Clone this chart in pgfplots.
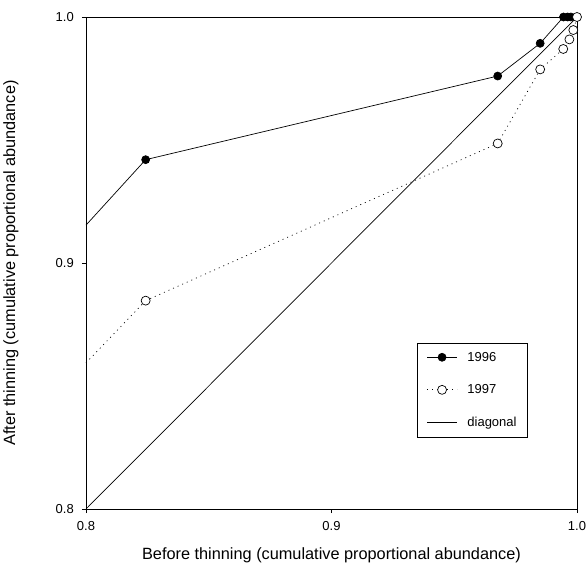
\documentclass[border=0pt]{standalone}
\usepackage{fontspec}
\setmainfont{Liberation Sans}
\usepackage{pgfplots}
\pgfplotsset{compat=1.18}
\begin{document}
\begin{tikzpicture}
\begin{axis}[
  scale only axis, width=491bp, height=492bp,
  xmin=0.8, xmax=1.0, ymin=0.8, ymax=1.0,
  xtick={0.8,0.9,1.0}, ytick={0.8,0.9,1.0},
  tick pos=left, tick align=outside, major tick length=4bp,
  minor tick num=0,
  clip=false,
  /pgf/number format/.cd, fixed, fixed zerofill, precision=1, assume math mode=true,
  /pgfplots/.cd,
  tick label style={font=\fontsize{13bp}{15bp}\selectfont},
  xticklabel style={yshift=-5bp},
  yticklabel style={xshift=-4.7bp},
  every tick/.style={black, line width=0.6bp},
  axis line style={line width=0.6bp},
  xlabel={Before thinning (cumulative proportional abundance)},
  ylabel={After thinning (cumulative proportional abundance)},
  label style={font=\fontsize{16.3bp}{19bp}\selectfont},
  xlabel style={at={(axis description cs:0.5,-0.0935)}, anchor=center},
  ylabel style={at={(axis description cs:-0.1527,0.5)}, anchor=center},
  legend cell align=left,
  legend image code/.code={\draw[mark repeat=2,mark phase=2,#1] plot coordinates {(0bp,0bp)(15bp,0bp)(30bp,0bp)};},
  legend style={at={(axis description cs:0.675,0.338)}, anchor=north west,
    draw=black, line width=0.6bp, inner xsep=9bp, inner ysep=7bp,
    font=\fontsize{13bp}{15bp}\selectfont, row sep=18bp, column sep=8bp},
]
% diagonal
\addplot[black, line width=0.7bp, forget plot] coordinates {(0.8,0.8) (1.0,1.0)};
% 1996
\addplot[black, line width=0.7bp, forget plot] coordinates {(0.8,0.9154) (0.8243,0.942)};
\addplot[black, line width=0.7bp, mark=*, mark size=4bp, mark options={solid, fill=black}]
  coordinates {(0.8243,0.942) (0.9677,0.976) (0.985,0.9893) (0.9945,1.0) (0.9962,1.0) (0.9975,1.0)};
\addlegendentry{1996}
% 1997
\addplot[black, line width=0.7bp, dash pattern=on 1bp off 4bp, forget plot] coordinates {(0.8,0.8594) (0.8243,0.8847)};
\addplot[black, line width=0.7bp, dash pattern=on 1bp off 4bp, mark=*, mark size=4.5bp, mark options={solid, draw=black, fill=white, line width=0.7bp}]
  coordinates {(0.8243,0.8847) (0.9677,0.9486) (0.985,0.9787) (0.9944,0.987) (0.9969,0.9909) (0.9985,0.9947) (1.0,1.0)};
\addlegendentry{1997}
\addlegendimage{black, line width=0.7bp}
\addlegendentry{diagonal}
\end{axis}
\pgfresetboundingbox
\path ([shift={(-86bp,-56bp)}]current axis.south west) rectangle ([shift={(500bp,509bp)}]current axis.south west);
\end{tikzpicture}
\end{document}
